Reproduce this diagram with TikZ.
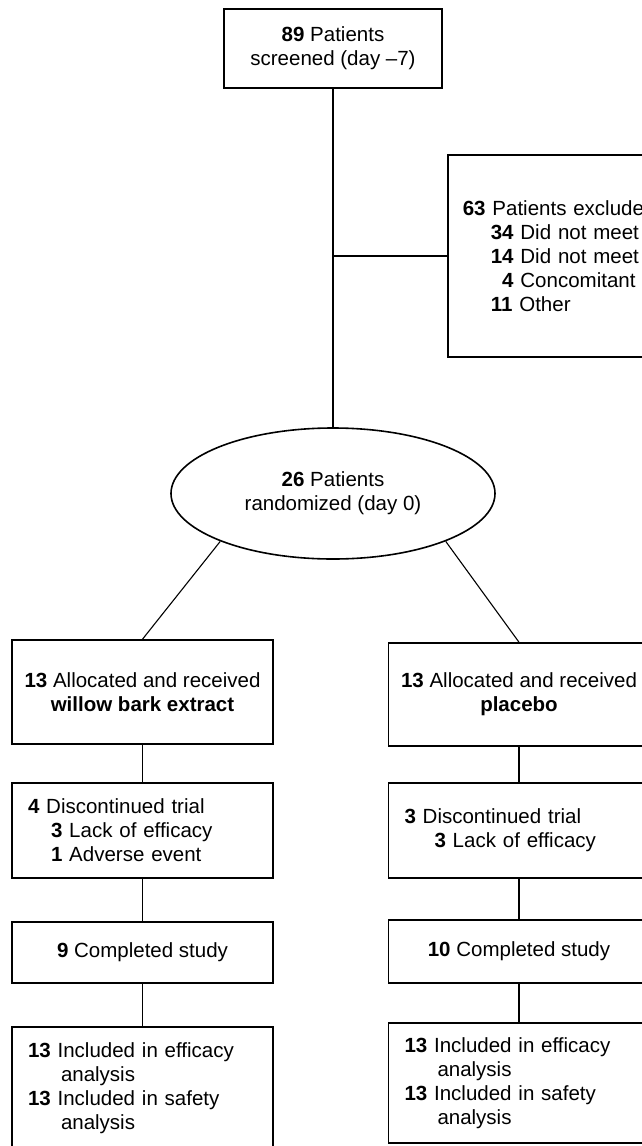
\documentclass[tikz,border=0pt]{standalone}
\usepackage{fontspec}
\setmainfont{Liberation Sans}
\usetikzlibrary{shapes.geometric}
\begin{document}
\begin{tikzpicture}[x=1pt,y=-1pt,
  every node/.style={font=\fontsize{20.5}{24}\selectfont},
  box/.style={draw, line width=1.6pt, rectangle, inner sep=0pt, minimum width=261pt},
  lbox/.style={box, align=left, text width=229pt, inner xsep=16pt},
  cbox/.style={box, align=center},
  oval/.style={draw, line width=1.6pt, ellipse, inner sep=0pt, align=center},
  conn/.style={line width=1.1pt}]
\useasboundingbox (0,0) rectangle (642,1146);
\clip (0,0) rectangle (642,1146);

\node[cbox, minimum width=218pt, minimum height=79pt] (top) at (333,48.5)
  {\textbf{89} Patients\\screened (day –7)};
\node[oval, minimum width=324pt, minimum height=131pt] (ell) at (333,493.5)
  {\textbf{26} Patients\\randomized (day 0)};
\node[lbox, anchor=west, minimum height=202pt, text width=250pt, inner xsep=15pt] (excl) at (447,256)
  {\textbf{63} Patients exclude\\
   \hspace*{28pt}\textbf{34} Did not meet\\
   \hspace*{28pt}\textbf{14} Did not meet\\
   \hspace*{28pt}\hphantom{\textbf{3}}\textbf{4} Concomitant\\
   \hspace*{28pt}\textbf{11} Other};

\node[cbox, minimum height=104pt] (l1) at (142.5,692)
  {\textbf{13} Allocated and received\\\textbf{willow bark extract}};
\node[cbox, minimum height=103pt] (r1) at (519,694.5)
  {\textbf{13} Allocated and received\\\textbf{placebo}};

\node[lbox, minimum height=95pt] (l2) at (142.5,830.5)
  {\textbf{4} Discontinued trial\\
   \hspace*{23pt}\textbf{3} Lack of efficacy\\
   \hspace*{23pt}\textbf{1} Adverse event};
\node[lbox, minimum height=95pt] (r2) at (519,830.5)
  {\textbf{3} Discontinued trial\\
   \hspace*{30pt}\textbf{3} Lack of efficacy};

\node[cbox, minimum height=61pt] (l3) at (142.5,952.5) {\textbf{9} Completed study};
\node[cbox, minimum height=63pt] (r3) at (519,951.5) {\textbf{10} Completed study};

\node[lbox, minimum height=122pt] (l4) at (142.5,1088)
  {\textbf{13} Included in efficacy\\
   \hspace*{33pt}analysis\\
   \textbf{13} Included in safety\\
   \hspace*{33pt}analysis};
\node[lbox, minimum height=120pt] (r4) at (519,1083)
  {\textbf{13} Included in efficacy\\
   \hspace*{33pt}analysis\\
   \textbf{13} Included in safety\\
   \hspace*{33pt}analysis};

\draw[conn] (top.south) -- (ell.north);
\draw[conn] (excl.west -| top.south) -- (excl.west);
\draw[conn] (ell.203) -- (l1.north);
\draw[conn] (ell.337) -- (r1.north);
\draw[conn] (l1.south) -- (l2.north);
\draw[conn] (r1.south) -- (r2.north);
\draw[conn] (l2.south) -- (l3.north);
\draw[conn] (r2.south) -- (r3.north);
\draw[conn] (l3.south) -- (l4.north);
\draw[conn] (r3.south) -- (r4.north);
\end{tikzpicture}
\end{document}
